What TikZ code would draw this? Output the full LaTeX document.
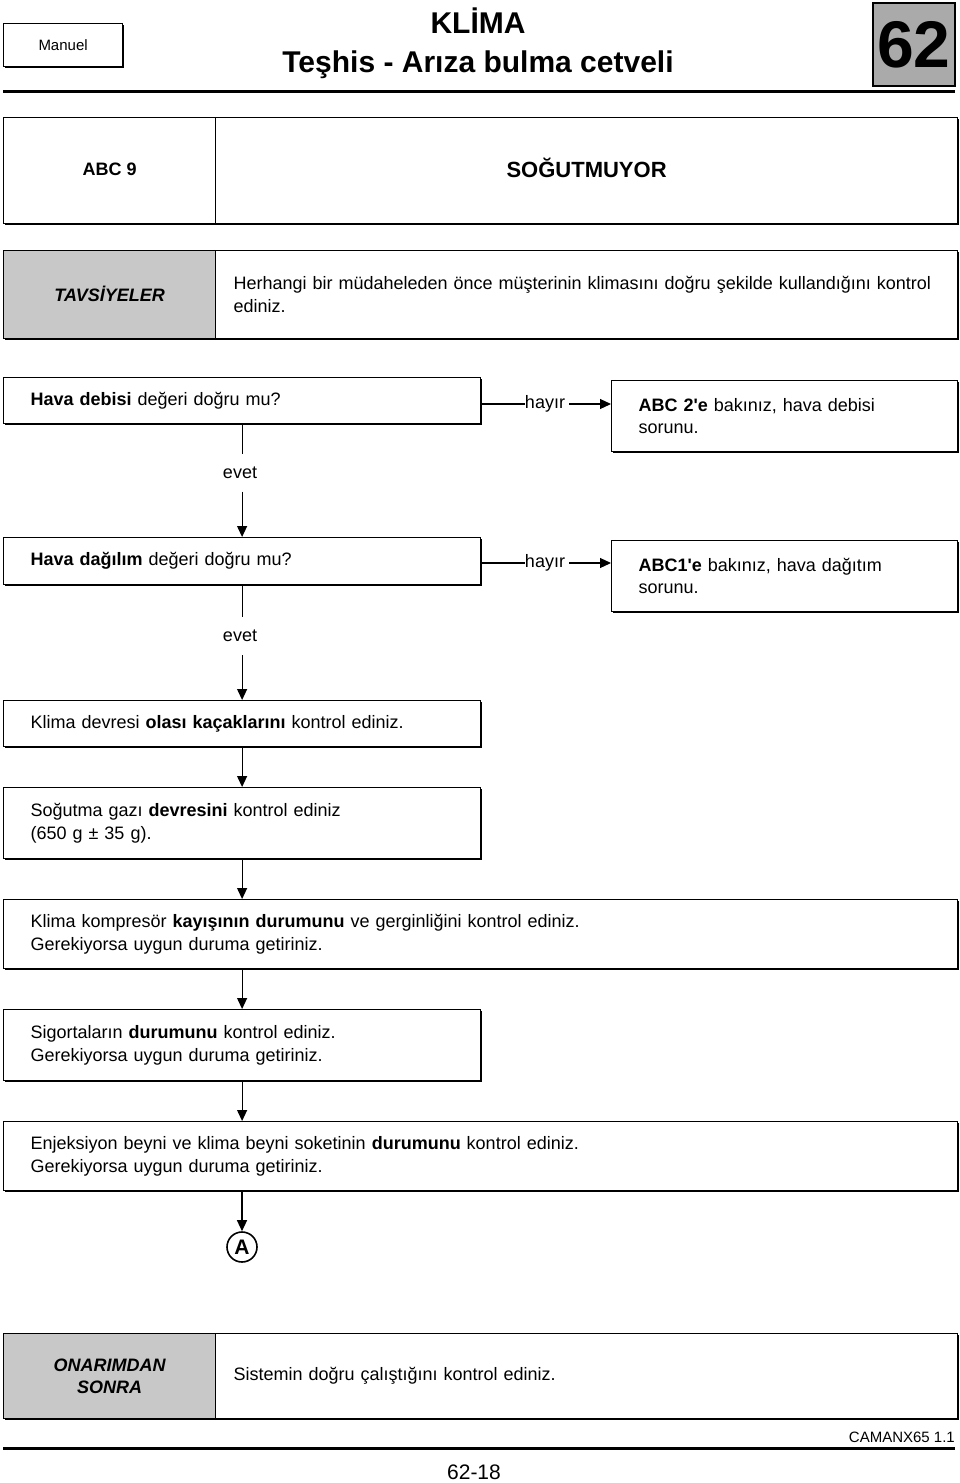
\documentclass[tikz,border=0pt]{standalone}
\usepackage{fontspec}
\setmainfont{Liberation Sans}[Ligatures=TeXOff]
\usetikzlibrary{shadows,arrows.meta}
\definecolor{lightg}{RGB}{200,200,200}
\definecolor{darkg}{RGB}{170,170,170}
\begin{document}
\begin{tikzpicture}[x=1pt,y=-1pt,
  every node/.style={font=\fontsize{18}{22.5}\selectfont},
  shad/.style={drop shadow={shadow xshift=1.5pt,shadow yshift=-1.5pt,fill=black,opacity=1}},
  box/.style={rectangle,draw,line width=1.2pt,fill=white,anchor=north west,inner xsep=27pt,inner ysep=0pt,align=left,shad},
  lbox/.style={box,minimum width=477pt,text width=423pt},
  rbox/.style={box,minimum width=346pt,text width=292pt,minimum height=71pt},
  wbox/.style={box,minimum width=954pt,text width=900pt,minimum height=69pt},
  cell/.style={rectangle,draw,line width=1.2pt,anchor=north west,inner sep=0pt,align=center,shad},
  tcell/.style={cell,fill=white,inner xsep=18pt,align=left,text width=706pt,minimum width=742pt},
  lbl/.style={inner sep=0pt},
  arr/.style={line width=1.2pt,-{Triangle[length=11pt,width=10pt]}},
  ln/.style={line width=1.2pt}
]
\useasboundingbox (0,0) rectangle (960,1483);

% header
\node[rectangle,draw,line width=1.2pt,fill=white,anchor=north west,minimum width=119pt,minimum height=43pt,inner sep=0pt,shad,font=\fontsize{15}{17}\selectfont] (man) at (3,23) {Manuel};
\node[lbl,anchor=base,font=\bfseries\fontsize{30}{34}\selectfont] (t1) at (478,33) {KLİMA};
\node[lbl,anchor=base,font=\bfseries\fontsize{30}{34}\selectfont] (t2) at (478,72) {Teşhis - Arıza bulma cetveli};
\node[rectangle,draw,line width=1.8pt,fill=darkg,anchor=north west,minimum width=82pt,minimum height=83pt,inner sep=0pt,font=\bfseries\fontsize{66}{66}\selectfont] (num) at (872,2) {62};
\coordinate (hl1) at (3,91);
\coordinate (hl2) at (955,91);
\draw[line width=3pt] (hl1) -- (hl2);

% table 1
\node[cell,fill=white,minimum width=212pt,minimum height=106pt,font=\bfseries\fontsize{18}{22.5}\selectfont] (abc) at (3,117) {\raisebox{3pt}{ABC 9}};
\node[cell,fill=white,minimum width=742pt,minimum height=106pt,font=\bfseries\fontsize{22}{26}\selectfont] (sog) at (215,117) {\raisebox{5pt}{SOĞUTMUYOR}};

% table 2
\node[cell,fill=lightg,minimum width=212pt,minimum height=88pt,font=\bfseries\itshape\fontsize{18}{22.5}\selectfont] (tav) at (3,250) {\raisebox{2pt}{TAVSİYELER}};
\node[tcell,minimum height=88pt] (her) at (215,250) {Herhangi bir müdaheleden önce müşterinin klimasını doğru şekilde kullandığını kontrol\\ediniz.};

% flow
\node[lbox,minimum height=46pt] (b1) at (3,377) {\textbf{Hava debisi} değeri doğru mu?};
\node[rbox] (r1) at (611,380) {\textbf{ABC 2'e} bakınız, hava debisi\\sorunu.};
\node[lbl] (h1) at (545,404) {hayır};
\draw[ln] (h1.west -| b1.east) -- (h1.west);
\draw[arr] (h1.east) ++(4,0) coordinate (h1a) (h1a) -- (h1a -| r1.west);

\node[lbl,minimum height=37pt] (e1) at (240,473) {evet};
\draw[ln] (b1.south) -- (e1.north -| b1.south);

\node[lbox,minimum height=47pt] (b2) at (3,537) {\textbf{Hava dağılım} değeri doğru mu?};
\draw[arr] (e1.south -| b1.south) -- (b2.north);
\node[rbox] (r2) at (611,540) {\textbf{ABC1'e} bakınız, hava dağıtım\\sorunu.};
\node[lbl] (h2) at (545,563) {hayır};
\draw[ln] (h2.west -| b2.east) -- (h2.west);
\draw[arr] (h2.east) ++(4,0) coordinate (h2a) (h2a) -- (h2a -| r2.west);

\node[lbl,minimum height=38pt] (e2) at (240,636) {evet};
\draw[ln] (b2.south) -- (e2.north -| b2.south);

\node[lbox,minimum height=46pt] (b3) at (3,700) {Klima devresi \textbf{olası kaçaklarını} kontrol ediniz.};
\draw[arr] (e2.south -| b2.south) -- (b3.north);

\node[lbox,minimum height=71pt] (b4) at (3,787) {Soğutma gazı \textbf{devresini} kontrol ediniz\\(650 g ± 35 g).};
\draw[arr] (b3.south) -- (b4.north);

\node[wbox] (b5) at (3,899) {Klima kompresör \textbf{kayışının durumunu} ve gerginliğini kontrol ediniz.\\Gerekiyorsa uygun duruma getiriniz.};
\draw[arr] (b4.south) -- (b4.south |- b5.north);

\node[lbox,minimum height=71pt] (b6) at (3,1009) {Sigortaların \textbf{durumunu} kontrol ediniz.\\Gerekiyorsa uygun duruma getiriniz.};
\draw[arr] (b6.north |- b5.south) -- (b6.north);

\node[wbox] (b7) at (3,1121) {Enjeksiyon beyni ve klima beyni soketinin \textbf{durumunu} kontrol ediniz.\\Gerekiyorsa uygun duruma getiriniz.};
\draw[arr] (b6.south) -- (b6.south |- b7.north);

\node[circle,draw,line width=1.6pt,minimum size=30pt,inner sep=0pt,font=\bfseries\fontsize{21}{22}\selectfont] (A) at (242,1247) {A};
\draw[arr] (A.north |- b7.south) -- (A.north);

% table 3
\node[cell,fill=lightg,minimum width=212pt,minimum height=85pt,font=\bfseries\itshape\fontsize{18}{22.5}\selectfont] (ona) at (3,1333) {ONARIMDAN\\SONRA};
\node[tcell,minimum height=85pt] (sis) at (215,1333) {Sistemin doğru çalıştığını kontrol ediniz.};

% footer
\node[lbl,anchor=east,font=\fontsize{15}{17}\selectfont] (cam) at (955,1437) {CAMANX65 1.1};
\coordinate (fl1) at (3,1448);
\coordinate (fl2) at (955,1448);
\draw[line width=3pt] (fl1) -- (fl2);
\node[lbl,font=\fontsize{21}{24}\selectfont] (pg) at (474,1472) {62-18};
\end{tikzpicture}
\end{document}
